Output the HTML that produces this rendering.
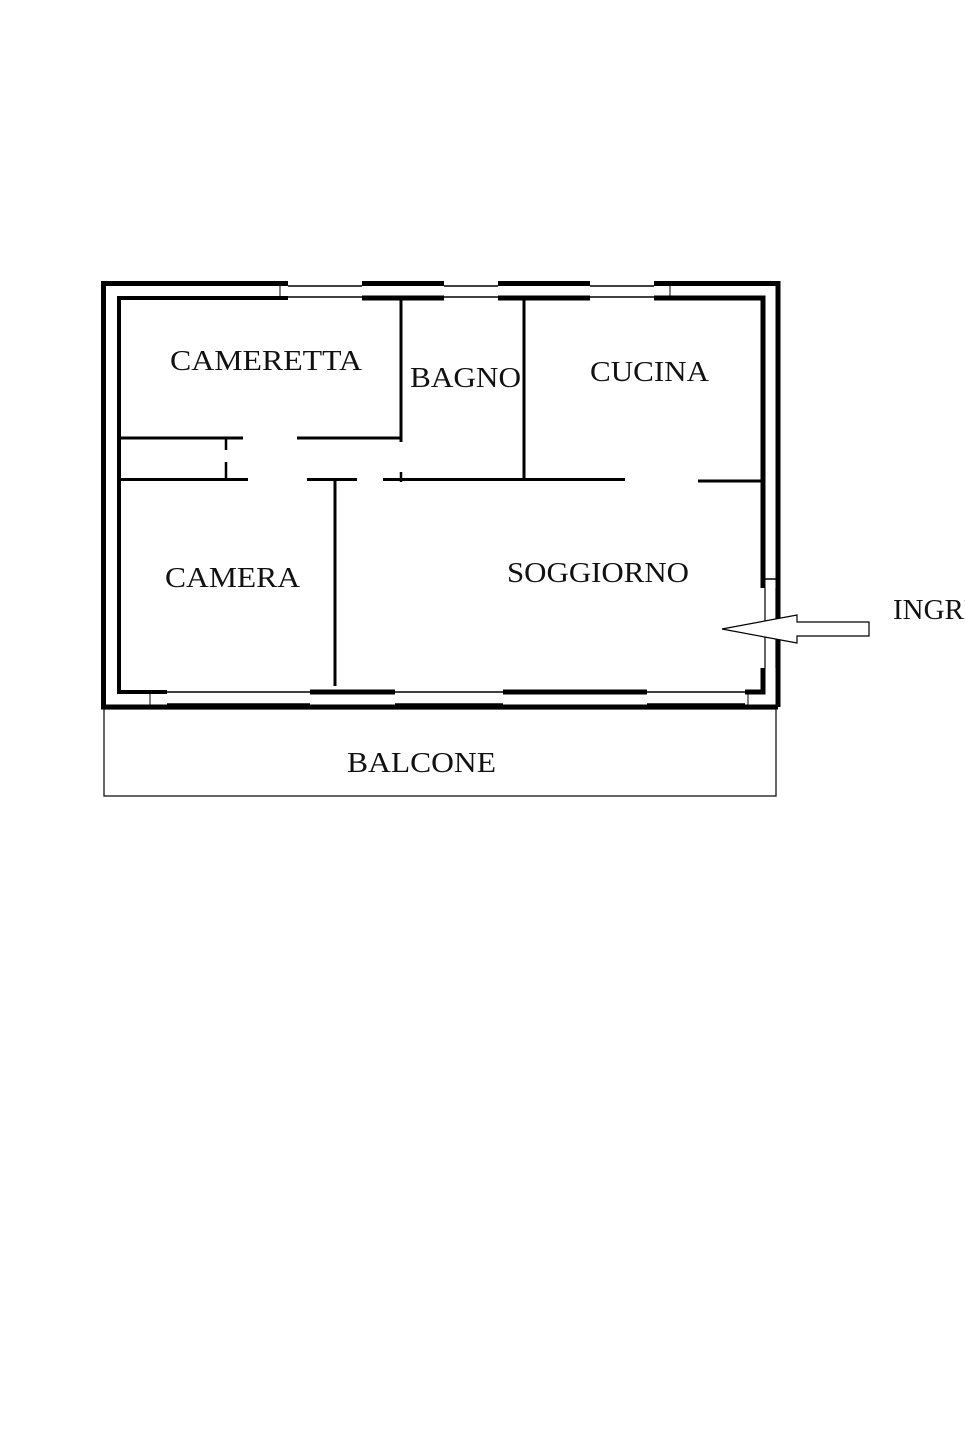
<!DOCTYPE html>
<html><head><style>
html,body{margin:0;padding:0;background:#fff;}
svg{display:block;}
text{font-family:"Liberation Serif",serif;font-size:29px;fill:#111;}
</style></head><body>
<svg width="965" height="1448" viewBox="0 0 965 1448" xmlns="http://www.w3.org/2000/svg">
<g stroke="#000" fill="none">
<path d="M288,283.5 H103.5 V707 H776" stroke-width="5"/>
<path d="M654,283.5 H778 V707" stroke-width="5"/>
<path d="M362,283.5 H444 M498,283.5 H590" stroke-width="5"/>
<path d="M288,298 H119 V692 H167" stroke-width="4"/>
<path d="M654,298 H763 V588" stroke-width="5"/>
<path d="M763,668 V692 H745" stroke-width="5"/>
<path d="M362,298 H444 M498,298 H590" stroke-width="5"/>
<path d="M288,286 H362 M288,297 H362 M444,286 H498 M444,297 H498 M590,286 H654 M590,297 H654" stroke-width="1.5"/>
<path d="M280,285 V298 M670,285 V298" stroke-width="1"/>
<path d="M310,692 H395 M503,692 H647" stroke-width="5"/>
<path d="M310,707 H395 M503,707 H647 M103,707 H167 M745,707 H778" stroke-width="5"/>
<path d="M167,692 H310 M395,692 H503 M647,692 H745 M167,704 H310 M395,704 H503 M647,704 H745" stroke-width="1.5"/>
<path d="M150,694 V706 M748,694 V706" stroke-width="1"/>
<path d="M763,570 V588 M778,570 V588" stroke-width="5"/>
<path d="M763,579 H778" stroke-width="1.5"/>
<path d="M765,588 V668 M776,588 V668" stroke-width="1.2"/>
<path d="M401,298 V442" stroke-width="3"/>
<path d="M119,438 H243 M297,438 H401" stroke-width="3"/>
<path d="M119,479.5 H248 M307,479.5 H357 M383,479.5 H625 M698,481 H765" stroke-width="3"/>
<path d="M524,298 V481" stroke-width="3"/>
<path d="M335,481 V686" stroke-width="3"/>
<path d="M226,438 V450 M226,462 V479 M401,472 V482" stroke-width="2.5"/>
<path d="M869,622 H797 V615 L722,629 L797,643 V636 H869 Z" stroke-width="1.2" fill="#fff"/>
<rect x="104" y="709" width="672" height="87" stroke-width="1.2"/>
</g>
<text x="170" y="370" textLength="192" lengthAdjust="spacingAndGlyphs">CAMERETTA</text>
<text x="410" y="387" textLength="111" lengthAdjust="spacingAndGlyphs">BAGNO</text>
<text x="590" y="381" textLength="119" lengthAdjust="spacingAndGlyphs">CUCINA</text>
<text x="165" y="587" textLength="135" lengthAdjust="spacingAndGlyphs">CAMERA</text>
<text x="507" y="582" textLength="182" lengthAdjust="spacingAndGlyphs">SOGGIORNO</text>
<text x="347" y="772" textLength="149" lengthAdjust="spacingAndGlyphs">BALCONE</text>
<text x="893" y="619">INGRESSO</text>
</svg>
</body></html>
